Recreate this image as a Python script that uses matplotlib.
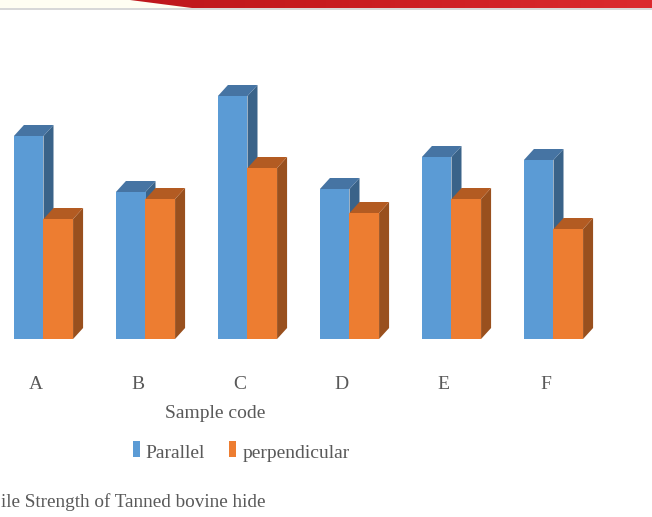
import numpy as np
import matplotlib
matplotlib.use("Agg")
import matplotlib.pyplot as plt
import matplotlib.transforms as mtransforms
from matplotlib.colors import LinearSegmentedColormap
from matplotlib.patches import Polygon, Rectangle

# Tensile strength (N/mm^2) of tanned bovine hide by sample code
samples = ["A", "B", "C", "D", "E", "F"]
parallel = [20.3, 14.7, 24.3, 15.0, 18.2, 17.9]
perpendicular = [12.0, 14.0, 17.1, 12.6, 14.0, 11.0]
series_names = ["Parallel", "perpendicular"]
x_title = "Sample code"
caption = "ile Strength of Tanned bovine hide"

W, H = 652, 517
fig = plt.figure(figsize=(W / 100, H / 100), dpi=100)
fig.patch.set_facecolor("white")

def fx(px):
    return px / W

def fy(py):
    # py measured from the top edge
    return 1 - py / H

# --- slide header band -------------------------------------------------------
band = fig.add_axes([0, fy(8), 1, 8 / H])
band.set_axis_off()
grad = np.linspace(0, 1, 256)[None, :]
reds = LinearSegmentedColormap.from_list("band", ["#B8141A", "#C81C20", "#DC2A2E"])
band.imshow(grad, aspect="auto", cmap=reds, extent=[0, 1, 0, 1])
band.add_patch(Polygon([(0, 0), (192 / W, 0), (130 / W, 1), (0, 1)],
                       closed=True, facecolor="#FFFEF2", edgecolor="none"))
band.set_xlim(0, 1)
band.set_ylim(0, 1)
fig.add_artist(Rectangle((0, fy(10)), 1, 2 / H, transform=fig.transFigure,
                         facecolor="#D8D8D8", edgecolor="none"))

# --- 3D-style clustered columns ---------------------------------------------
base_px, top_px = 339, 20
ax = fig.add_axes([0, fy(base_px), 1, (base_px - top_px) / H])
ax.set_xlim(-43.5 / 102, (W - 43.5) / 102)
ax.set_ylim(0, (base_px - top_px) / 10)
ax.set_axis_off()

bar_w = 0.29
dx = 10 / 102          # depth offset along x (category units)
dy = 1.1               # depth offset along y (value units)

styles = [
    dict(front="#5B9BD5", top="#4674A3", side="#3A6389"),
    dict(front="#ED7D31", top="#B35B22", side="#99501E"),
]

def column(x0, h, st, z):
    x1 = x0 + bar_w
    ax.add_patch(Polygon([(x1, 0), (x1 + dx, dy), (x1 + dx, h + dy), (x1, h)],
                         closed=True, facecolor=st["side"], edgecolor="none", zorder=z))
    ax.add_patch(Polygon([(x0, h), (x1, h), (x1 + dx, h + dy), (x0 + dx, h + dy)],
                         closed=True, facecolor=st["top"], edgecolor="none", zorder=z))
    ax.add_patch(Rectangle((x0, 0), bar_w, h, facecolor=st["front"],
                           edgecolor="none", zorder=z + 0.5))

for i in range(len(samples)):
    column(i - bar_w, parallel[i], styles[0], 2 * i + 1)
    column(i, perpendicular[i], styles[1], 2 * i + 2)

# --- text ---------------------------------------------------------------------
serif = "Liberation Serif"
grey = "#595959"
label_tf = mtransforms.blended_transform_factory(ax.transData, fig.transFigure)
for i, s in enumerate(samples):
    ax.text(i - 0.075, fy(389), s, transform=label_tf,
            fontsize=14, family=serif, color=grey, ha="center", va="baseline")

fig.text(fx(215), fy(418), x_title, fontsize=14, family=serif,
         color=grey, ha="center", va="baseline")

legend_items = [(133, 145, series_names[0], styles[0]["front"]),
                (229, 243, series_names[1], styles[1]["front"])]
for sq_x, tx, name, col in legend_items:
    fig.add_artist(Rectangle((fx(sq_x), fy(457)), 7 / W, 16 / H,
                             transform=fig.transFigure, facecolor=col, edgecolor="none"))
    fig.text(fx(tx), fy(458), name, fontsize=14, family=serif, color=grey,
             ha="left", va="baseline")

fig.text(fx(1), fy(507), caption, fontsize=13.8,
         family=serif, color=grey, ha="left", va="baseline")

fig.savefig("out.png", dpi=100)
